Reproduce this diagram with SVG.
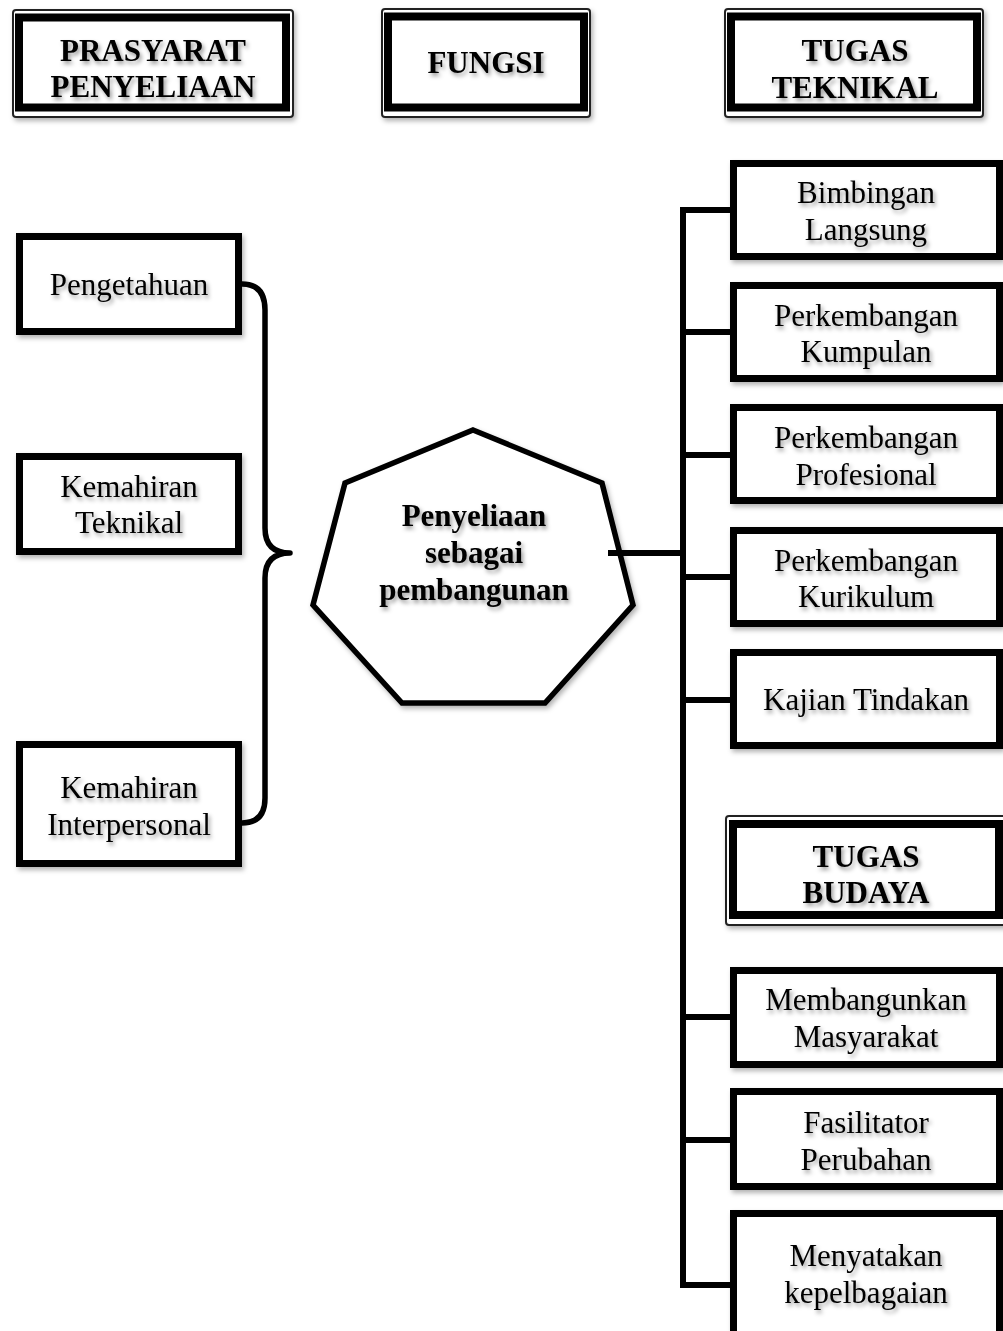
<svg xmlns="http://www.w3.org/2000/svg" width="1003" height="1331" viewBox="0 0 1003 1331">
<defs>
<filter id="ts" x="-10%" y="-30%" width="130%" height="180%">
<feDropShadow dx="2" dy="3" stdDeviation="2.2" flood-color="#000" flood-opacity="0.4"/>
</filter>
<filter id="bs" x="-5%" y="-5%" width="115%" height="120%">
<feDropShadow dx="2" dy="3" stdDeviation="2.5" flood-color="#000" flood-opacity="0.3"/>
</filter>
<style>
rect.box{fill:#fff;stroke:#000;stroke-width:7;filter:url(#bs)}
rect.hthin{fill:#fff;stroke:#222;stroke-width:2;filter:url(#bs)}
rect.hthick{fill:#fff;stroke:#000;stroke-width:8}
text{font-family:"Liberation Serif","Times New Roman",serif;font-size:31px;fill:#000;text-anchor:middle;filter:url(#ts)}
text.b{font-weight:bold}
.conn{fill:none;stroke:#000;stroke-width:6;stroke-linejoin:miter}
.brace{fill:none;stroke:#000;stroke-width:5.5;stroke-linejoin:round;stroke-linecap:round}
</style>
</defs>
<rect width="1003" height="1331" fill="#fff"/>

<g id="hdr-prasyarat">
<rect class="hthin" x="13" y="10" width="280" height="107" rx="3"/>
<rect class="hthick" x="19" y="17.5" width="267" height="90"/>
<text class="b" x="153" y="61">PRASYARAT</text>
<text class="b" x="153" y="97">PENYELIAAN</text>
</g>
<g id="hdr-fungsi">
<rect class="hthin" x="382" y="9" width="208" height="108" rx="3"/>
<rect class="hthick" x="388" y="16.5" width="196" height="91"/>
<text class="b" x="486" y="73">FUNGSI</text>
</g>
<g id="hdr-teknikal">
<rect class="hthin" x="725" y="9" width="258" height="108" rx="3"/>
<rect class="hthick" x="731" y="16.5" width="246" height="91"/>
<text class="b" x="855" y="61">TUGAS</text>
<text class="b" x="855" y="98">TEKNIKAL</text>
</g>

<g id="n-pengetahuan">
<rect class="box" x="19.5" y="236.5" width="219" height="95"/>
<text x="129" y="295">Pengetahuan</text>
</g>
<g id="n-kemahiran-teknikal">
<rect class="box" x="19.5" y="456.5" width="219" height="95"/>
<text x="129" y="497">Kemahiran</text>
<text x="129" y="533">Teknikal</text>
</g>
<g id="n-kemahiran-interpersonal">
<rect class="box" x="19.5" y="744.5" width="219" height="119"/>
<text x="129" y="798">Kemahiran</text>
<text x="129" y="835">Interpersonal</text>
</g>

<g id="n-center">
<polygon points="473,430 602,483 633,605 545,703 402,703 313,605 345,483" fill="#fff" stroke="#000" stroke-width="5.5" stroke-linejoin="miter" filter="url(#bs)"/>
<text class="b" x="474" y="526">Penyeliaan</text>
<text class="b" x="474" y="563">sebagai</text>
<text class="b" x="474" y="600">pembangunan</text>
</g>

<g id="n-bimbingan">
<rect class="box" x="733.5" y="163.5" width="266" height="93"/>
<text x="866" y="203">Bimbingan</text>
<text x="866" y="240">Langsung</text>
</g>
<g id="n-kumpulan">
<rect class="box" x="733.5" y="285.5" width="266" height="93"/>
<text x="866" y="326">Perkembangan</text>
<text x="866" y="362">Kumpulan</text>
</g>
<g id="n-profesional">
<rect class="box" x="733.5" y="407.5" width="266" height="93"/>
<text x="866" y="448">Perkembangan</text>
<text x="866" y="485">Profesional</text>
</g>
<g id="n-kurikulum">
<rect class="box" x="733.5" y="530.5" width="266" height="93"/>
<text x="866" y="571">Perkembangan</text>
<text x="866" y="607">Kurikulum</text>
</g>
<g id="n-kajian">
<rect class="box" x="733.5" y="652.5" width="266" height="93"/>
<text x="866" y="710">Kajian Tindakan</text>
</g>

<g id="hdr-budaya">
<rect class="hthin" x="726" y="816" width="290" height="109" rx="3"/>
<rect class="hthick" x="733" y="824" width="266" height="91"/>
<text class="b" x="866" y="867">TUGAS</text>
<text class="b" x="866" y="903">BUDAYA</text>
</g>

<g id="n-masyarakat">
<rect class="box" x="733.5" y="970.5" width="266" height="94"/>
<text x="866" y="1010">Membangunkan</text>
<text x="866" y="1047">Masyarakat</text>
</g>
<g id="n-fasilitator">
<rect class="box" x="733.5" y="1091.5" width="266" height="95"/>
<text x="866" y="1133">Fasilitator</text>
<text x="866" y="1170">Perubahan</text>
</g>
<g id="n-kepelbagaian">
<rect class="box" x="733.5" y="1213.5" width="266" height="200"/>
<text x="866" y="1266">Menyatakan</text>
<text x="866" y="1303">kepelbagaian</text>
</g>

<g id="connectors">
<path class="brace" d="M242,284 Q265,284 265,310 L265,528 Q265,553 290,553 Q265,553 265,578 L265,798 Q265,823 242,823"/>
<path class="conn" d="M608,553 H683"/>
<path class="conn" d="M730,210 H683 V1285 H730"/>
<path class="conn" d="M683,332 H730"/>
<path class="conn" d="M683,455 H730"/>
<path class="conn" d="M683,577 H730"/>
<path class="conn" d="M683,700 H730"/>
<path class="conn" d="M683,1017 H730"/>
<path class="conn" d="M683,1140 H730"/>
</g>
</svg>
